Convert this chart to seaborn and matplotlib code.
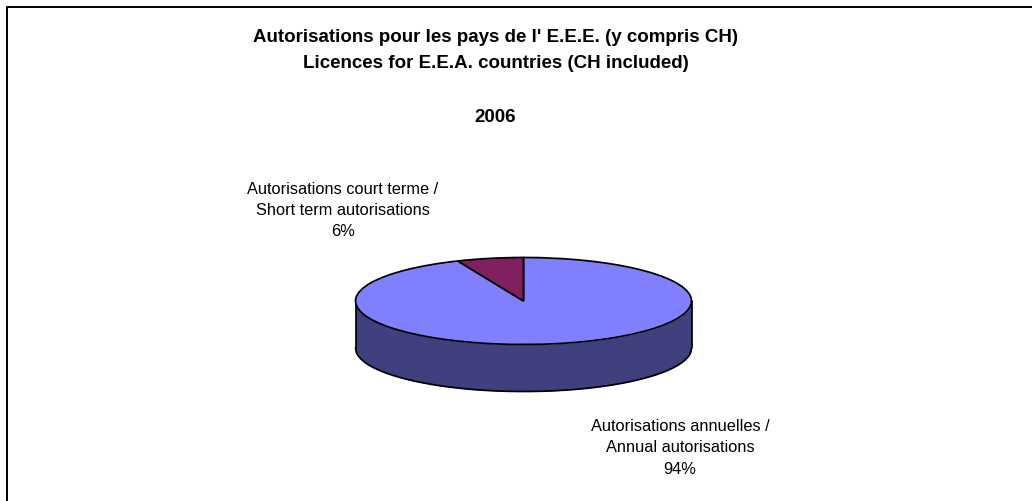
import numpy as np
import matplotlib
matplotlib.use("Agg")
import matplotlib.pyplot as plt
import seaborn as sns

# valeurs
labels = ["Autorisations annuelles /\nAnnual autorisations", "Autorisations court terme /\nShort term autorisations"]
values = [93.6, 6.4]
top_colors = ["#8080FF", "#802060"]
wall_color = "#40407F"
titles = ["Autorisations pour les pays de l' E.E.E. (y compris CH)", "Licences for E.E.A. countries (CH included)", "2006"]

W, H = 1032, 502
sns.set_theme(style="white")
plt.rcParams["font.family"] = ["Liberation Sans", "DejaVu Sans"]

fig = plt.figure(figsize=(W / 100, H / 100), dpi=100)

# cadre: haut et gauche seulement
bg = fig.add_axes([0, 0, 1, 1])
bg.set_xlim(0, W)
bg.set_ylim(H, 0)
bg.axis("off")
bg.plot([6.5, 6.5, W], [H, 7.5, 7.5], color="black", lw=1.4, solid_capstyle="butt")

# ellipse du dessus: centre (523.5, 302), rx 168, ry 43.5, epaisseur 47
cx, cy, rx, ry, depth = 523.5, 302, 168, 43.5, 47
ax = fig.add_axes([(cx - rx) / W, 1 - (cy + ry + depth) / H, 2 * rx / W, (2 * ry + depth) / H])
ax.patch.set_alpha(0)
d = depth / ry

# paroi de la part annuelle, visible sous le disque
t = np.linspace(-1, 1, 400)
low = -np.sqrt(1 - t ** 2)
ax.fill_between(t, low, low - d, color=wall_color, lw=0, zorder=1)
ax.plot(t, low - d, color="black", lw=1.25, zorder=2)
ax.plot([-1, -1], [0, -d], color="black", lw=1.25, zorder=2)
ax.plot([1, 1], [0, -d], color="black", lw=1.25, zorder=2)

# le disque: la part court terme finit a midi
ax.pie(values, colors=top_colors, startangle=90, counterclock=False,
       radius=1, center=(0, 0), wedgeprops={"edgecolor": "black", "linewidth": 1.25, "zorder": 3})
ax.set_aspect("auto")
ax.set_xlim(-1, 1)
ax.set_ylim(-1 - d, 1)
for p in ax.patches:
    p.set_clip_on(False)
for l in ax.lines:
    l.set_clip_on(False)

# titres
for line, y in zip(titles, [38, 64, 118]):
    bg.text(495.5, y, line, ha="center", va="center", fontsize=13.5, fontweight="bold", color="black")

# etiquettes
bg.text(680, 448, f"{labels[0]}\n{round(values[0]):.0f}%", ha="center", va="center", fontsize=11.8,
        linespacing=1.52, color="black")
bg.text(343, 210.5, f"{labels[1]}\n{round(values[1]):.0f}%", ha="center", va="center", fontsize=11.8,
        linespacing=1.52, color="black")

fig.savefig("out.png", dpi=100)
